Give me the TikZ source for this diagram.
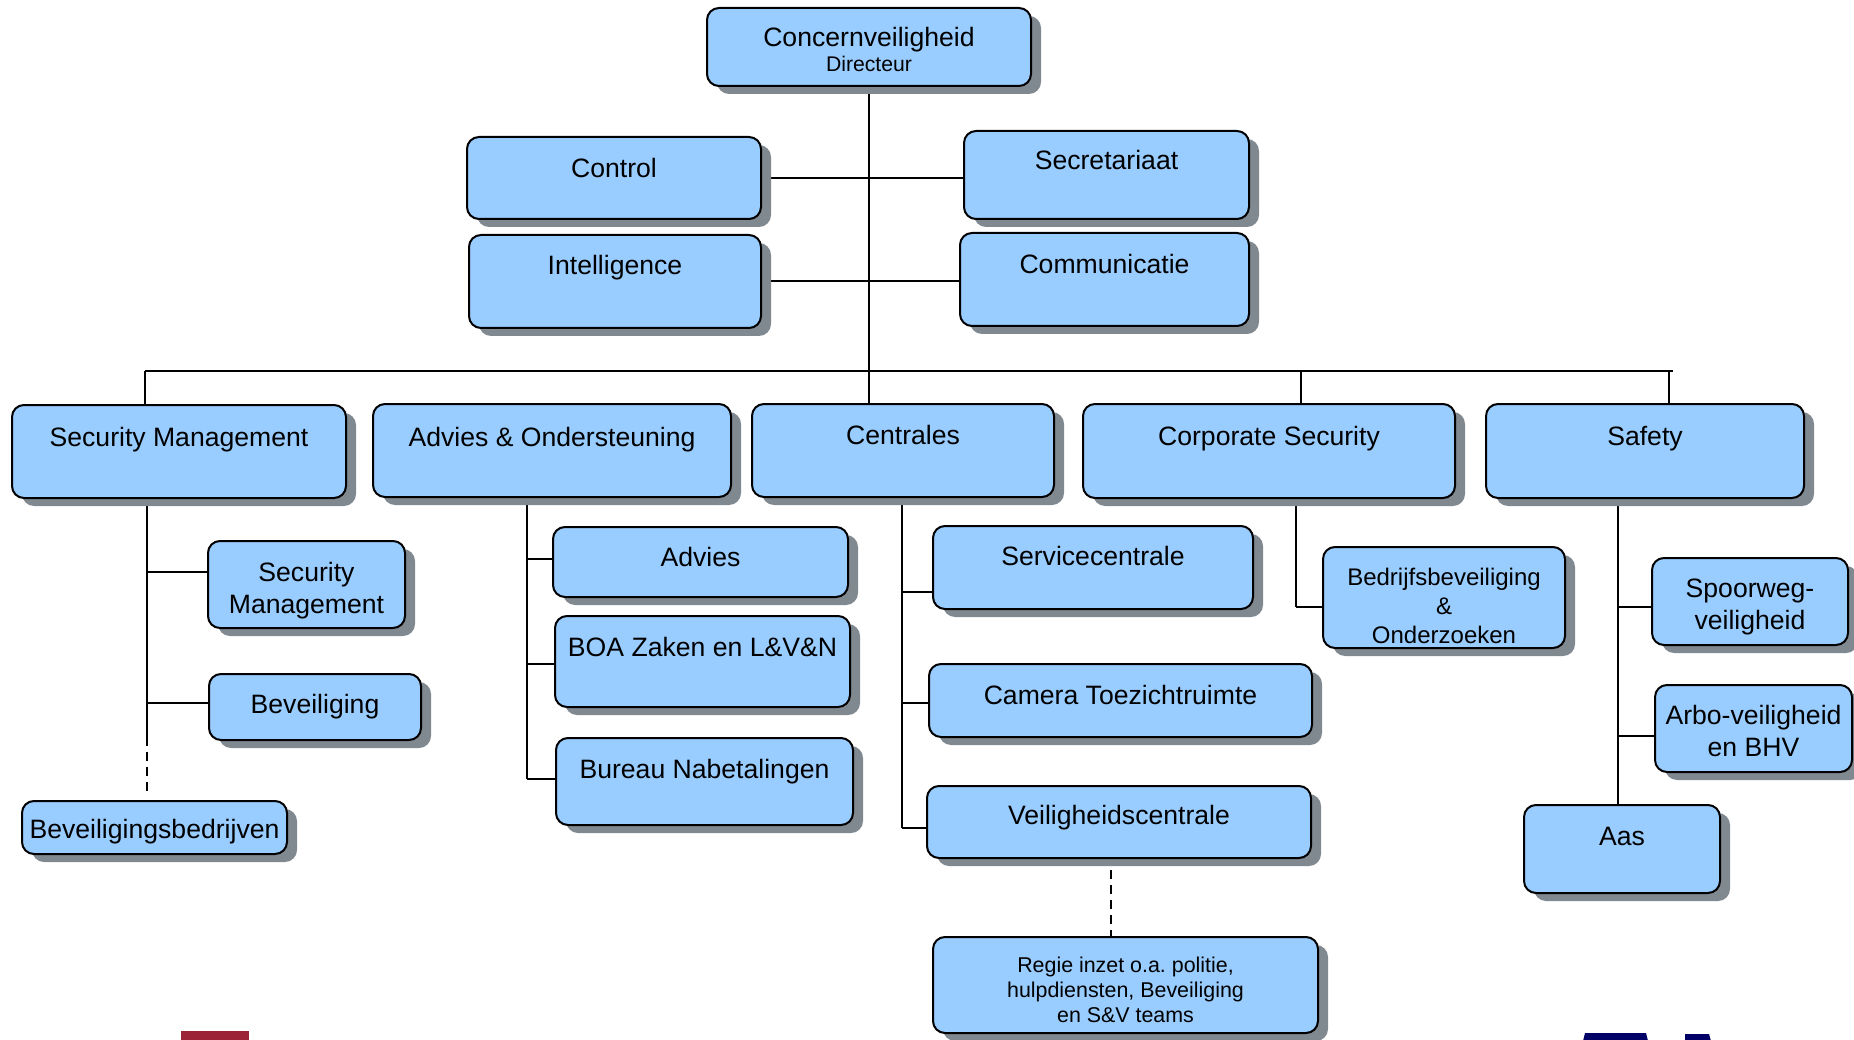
\documentclass[tikz,border=0pt]{standalone}
\usepackage{fontspec}
\setmainfont{Liberation Sans}
\usetikzlibrary{shadows,backgrounds}
\frenchspacing
\definecolor{boxblue}{RGB}{153,204,255}
\definecolor{shadowgray}{RGB}{128,136,144}
\definecolor{logored}{RGB}{155,35,53}
\definecolor{logonavy}{RGB}{0,0,102}
\tikzset{
  box/.style={draw=black, line width=2pt, fill=boxblue, rounded corners=12pt, inner sep=0pt,
    drop shadow={shadow xshift=10pt, shadow yshift=-8pt, fill=shadowgray, opacity=1}},
  lbl/.style={inner sep=0pt, align=center, font=\fontsize{26.6}{32}\selectfont},
  conn/.style={draw=black, line width=2pt},
  dashconn/.style={draw=black, line width=2pt, dash pattern=on 9pt off 6pt},
}
% [label options]{name}{x1}{y1}{x2}{y2}{text y}{text}
\newcommand\obox[8][]{%
  \pgfmathsetmacro\obw{#5-#3}%
  \pgfmathsetmacro\obh{#6-#4}%
  \node[box, minimum width=\obw pt, minimum height=\obh pt] (#2) at ({(#3+#5)/2},{(#4+#6)/2}) {};
  \node[lbl,#1] (#2-t) at ({(#3+#5)/2},#7) {#8};
}
\begin{document}
\begin{tikzpicture}[x=1pt,y=-1pt]
\useasboundingbox (0,0) rectangle (1854,1040);

% top
\obox{concern}{707}{8}{1031}{86}{39.5}{Concernveiligheid}
\node[lbl, font=\fontsize{21.2}{24}\selectfont] (concern-d) at (869,64) {Directeur};

% staff
\obox{control}{467}{137}{761}{219}{168}{Control}
\obox{sec}{964}{131}{1249}{219}{160}{Secretariaat}
\obox{intel}{469}{235}{761}{328}{268}{Intelligence}
\obox{comm}{960}{233}{1249}{326}{264}{Communicatie}

% level 2
\obox{sm}{12}{405}{346}{498}{440}{Security Management}
\obox{ao}{373}{404}{731}{497}{440}{Advies \& Ondersteuning}
\obox{cent}{752}{404}{1054}{497}{435}{Centrales}
\obox{cs}{1083}{404}{1455}{498}{438.5}{Corporate Security}
\obox{safety}{1486}{404}{1804}{498}{438.5}{Safety}

% Security Management children
\obox{smc}{208}{541}{405}{628}{591}{Security\\Management}
\obox{bev}{209}{674}{421}{740}{707}{Beveiliging}
\obox{bb}{22}{801}{287}{854}{832}{Beveiligingsbedrijven}

% Advies & Ondersteuning children
\obox{adv}{553}{527}{848}{597}{557}{Advies}
\obox{boa}{555}{616}{850}{707}{647}{BOA Zaken en L\&V\&N}
\obox{bur}{556}{738}{853}{825}{772}{Bureau Nabetalingen}

% Centrales children
\obox{svc}{933}{526}{1253}{609}{556}{Servicecentrale}
\obox{cam}{929}{664}{1312}{737}{695}{Camera Toezichtruimte}
\obox{vc}{927}{786}{1311}{858}{818}{Veiligheidscentrale}
\obox[font=\fontsize{21.4}{25}\selectfont]{regie}{933}{937}{1318}{1033}{990}{Regie inzet o.a. politie,\\hulpdiensten, Beveiliging\\en S\&V teams}

% Corporate Security child
\obox[font=\fontsize{24}{29}\selectfont]{bdb}{1323}{547}{1565}{648}{606}{Bedrijfsbeveiliging\\\&\\Onderzoeken}

% Safety children
\obox{spw}{1652}{558}{1848}{645}{607}{Spoorweg-\\veiligheid}
\obox{arbo}{1655}{685}{1852}{772}{731}{Arbo-veiligheid\\en BHV}
\obox{aas}{1524}{805}{1720}{893}{836}{Aas}

% connector coordinates
\coordinate (busL) at (145,371);
\coordinate (busR) at (1673,371);
\coordinate (dropCS) at (1301,371);
\coordinate (dropSF) at (1669,371);
\coordinate (smA) at (147,572);
\coordinate (smB) at (147,703);
\coordinate (smEnd) at (147,737);
\coordinate (smDash) at (147,792);
\coordinate (aoA) at (527,559);
\coordinate (aoB) at (527,664);
\coordinate (aoC) at (527,779);
\coordinate (ceA) at (902,592);
\coordinate (ceB) at (902,703);
\coordinate (ceC) at (902,828);
\coordinate (csA) at (1296,607);
\coordinate (sfA) at (1618,607);
\coordinate (sfB) at (1618,736);
\coordinate (vcD) at (1111,870);

\begin{pgfonlayer}{background}
  \draw[conn] (concern.south) -- (concern.south |- cent.north);
  \draw[conn] (control.east) -- (control.east -| sec.west);
  \draw[conn] (intel.east) -- (intel.east -| comm.west);
  \draw[conn] (busL) -- (busR);
  \draw[conn] (busL) -- (busL |- sm.north);
  \draw[conn] (dropCS) -- (dropCS |- cs.north);
  \draw[conn] (dropSF) -- (dropSF |- safety.north);
  % SM
  \draw[conn] (smA |- sm.south) -- (smEnd);
  \draw[dashconn] (smEnd) -- (smDash);
  \draw[conn] (smA) -- (smA -| smc.west);
  \draw[conn] (smB) -- (smB -| bev.west);
  % AO
  \draw[conn] (aoA |- ao.south) -- (aoC);
  \draw[conn] (aoA) -- (aoA -| adv.west);
  \draw[conn] (aoB) -- (aoB -| boa.west);
  \draw[conn] (aoC) -- (aoC -| bur.west);
  % Centrales
  \draw[conn] (ceA |- cent.south) -- (ceC);
  \draw[conn] (ceA) -- (ceA -| svc.west);
  \draw[conn] (ceB) -- (ceB -| cam.west);
  \draw[conn] (ceC) -- (ceC -| vc.west);
  \draw[dashconn] (vcD) -- (vcD |- regie.north);
  % CS
  \draw[conn] (csA |- cs.south) -- (csA);
  \draw[conn] (csA) -- (csA -| bdb.west);
  % Safety
  \draw[conn] (sfA |- safety.south) -- (sfA |- aas.north);
  \draw[conn] (sfA) -- (sfA -| spw.west);
  \draw[conn] (sfB) -- (sfB -| arbo.west);
\end{pgfonlayer}

% logo fragments at the bottom edge
\fill[logored] (181,1031) rectangle (249,1041);
\fill[logonavy] (1585,1033) -- (1646,1033) -- (1648,1041) -- (1583,1041) -- cycle;
\fill[logonavy] (1685,1034) -- (1709,1034) -- (1711,1041) -- (1685,1041) -- cycle;
\end{tikzpicture}
\end{document}
